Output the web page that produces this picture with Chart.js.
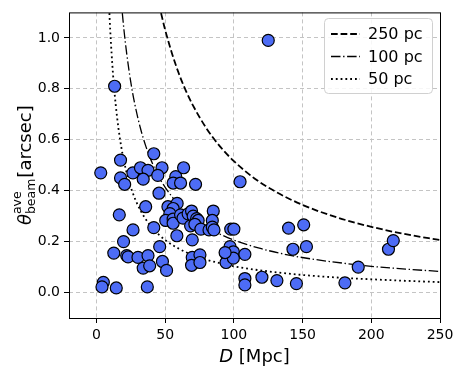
<!DOCTYPE html>
<html lang="en">
<head>
  <meta charset="UTF-8">
  <title>Beam size vs distance</title>
  <script src="https://cdn.jsdelivr.net/npm/chart.js"></script>
  <style>
    html, body { margin: 0; padding: 0; background: #fff; }
    .chart-box { position: relative; width: 463px; height: 371px; }
  </style>
</head>
<body>
  <div class="chart-box">
    <canvas id="beamChart" width="463" height="371"></canvas>
  </div>
  <script>
    // Galaxies: distance D [Mpc] and average beam size [arcsec]
    const galaxyD = [125, 13.2, 3.1, 5, 4, 14.4, 37, 12.6, 19.7,
      17.5, 17.5, 20.5, 26.5, 32, 37.5, 34, 41.7, 47.7, 44.6, 57.7, 63.4, 55.8, 61.2, 72.1, 104.5,
      45.5, 35.8, 16.6, 26.6, 41.7, 22, 23, 30.2, 37.5, 34, 38.7, 46, 48, 51,
      58.5, 69.7, 69.7, 75.3, 69.2, 75.3, 94, 97.2, 99.6, 94.3, 99.6, 93.6, 108, 108, 108,
      97.7, 100, 52, 58.7, 55.8, 53.4, 50.4, 55.8, 55.8, 61.2, 63, 66.7, 69.2, 70.4, 72.9,
      74, 68.5, 71.6, 76, 81.9, 85, 84.3, 84.3, 85.5,
      120.4, 131.3, 145.5, 139.8, 150.8, 143, 152.8, 190.5, 180.8, 212.5, 216];
    const galaxyTheta = [0.99, 0.81, 0.47, 0.04, 0.022, 0.018, 0.022, 0.155, 0.2,
      0.52, 0.45, 0.425, 0.47, 0.49, 0.48, 0.445, 0.545, 0.49, 0.46, 0.455, 0.49, 0.43, 0.43, 0.425, 0.435,
      0.39, 0.337, 0.305, 0.246, 0.255, 0.145, 0.14, 0.138, 0.145, 0.096, 0.105, 0.18, 0.122, 0.087,
      0.223, 0.207, 0.138, 0.148, 0.107, 0.118, 0.155, 0.18, 0.16, 0.118, 0.135, 0.157, 0.15, 0.055, 0.03,
      0.249, 0.249, 0.337, 0.35, 0.33, 0.31, 0.283, 0.288, 0.272, 0.305, 0.292, 0.309, 0.32, 0.3, 0.29,
      0.283, 0.262, 0.268, 0.249, 0.246, 0.32, 0.283, 0.257, 0.246,
      0.06, 0.047, 0.035, 0.253, 0.266, 0.17, 0.18, 0.1, 0.038, 0.17, 0.204];

    // Reference curves
    const curve250D = [47, 50, 55, 60, 65, 70, 80, 90, 100, 115, 130, 150, 175, 200, 225, 250];
    const curve250Theta = [1.097, 1.031, 0.938, 0.859, 0.793, 0.737, 0.645, 0.573, 0.516, 0.448, 0.397, 0.344, 0.295, 0.258, 0.229, 0.206];
    const curve100D = [18.8, 20, 22, 25, 28, 32, 36, 40, 45, 50, 60, 70, 80, 90, 100, 120, 140, 160, 180, 200, 225, 250];
    const curve100Theta = [1.097, 1.031, 0.938, 0.825, 0.737, 0.645, 0.573, 0.516, 0.458, 0.413, 0.344, 0.295, 0.258, 0.229, 0.206, 0.172, 0.147, 0.129, 0.115, 0.103, 0.092, 0.083];
    const curve50D = [9.4, 10, 11, 12, 13, 14, 16, 18, 20, 23, 26, 30, 35, 40, 45, 50, 60, 70, 80, 90, 100, 125, 150, 175, 200, 225, 250];
    const curve50Theta = [1.097, 1.031, 0.938, 0.859, 0.793, 0.737, 0.645, 0.573, 0.516, 0.448, 0.397, 0.344, 0.295, 0.258, 0.229, 0.206, 0.172, 0.147, 0.129, 0.115, 0.103, 0.083, 0.069, 0.059, 0.052, 0.046, 0.041];

    const curveLabels = ['250 pc', '100 pc', '50 pc'];
    const curveDashes = [[6.7, 2.9], [9.5, 2.6, 1.4, 2.6], [1.8, 3]];
    const curveWidths = [1.8, 1.3, 1.8];
    const xTicks = [0, 50, 100, 150, 200, 250];
    const yTicks = [0.0, 0.2, 0.4, 0.6, 0.8, 1.0];

    const font = "'DejaVu Sans', sans-serif";

    function pairs(xs, ys) {
      return xs.map((x, i) => ({ x: x, y: ys[i] }));
    }

    function curveDataset(xs, ys, i) {
      return {
        label: curveLabels[i],
        data: pairs(xs, ys),
        showLine: true,
        borderColor: '#000',
        borderWidth: curveWidths[i],
        borderDash: curveDashes[i],
        pointRadius: 0,
        cubicInterpolationMode: 'monotone',
        order: i + 1
      };
    }

    // Frame, axis titles and legend box
    const extras = {
      id: 'extras',
      afterDraw(chart) {
        const ctx = chart.ctx;
        const a = chart.chartArea;
        ctx.save();
        ctx.strokeStyle = '#000';
        ctx.lineWidth = 1;
        ctx.strokeRect(a.left + 0.5, a.top + 0.5, a.right - a.left, a.bottom - a.top);

        // x title
        ctx.fillStyle = '#000';
        ctx.textBaseline = 'alphabetic';
        const cx = (a.left + a.right) / 2;
        ctx.font = 'italic 18px ' + font;
        const wD = ctx.measureText('D').width;
        ctx.font = '18px ' + font;
        const wRest = ctx.measureText(' [Mpc]').width;
        let x0 = cx - (wD + wRest) / 2;
        ctx.font = 'italic 18px ' + font;
        ctx.fillText('D', x0, 362);
        ctx.font = '18px ' + font;
        ctx.fillText(' [Mpc]', x0 + wD, 362);

        // y title, rotated
        ctx.translate(31, (a.top + a.bottom) / 2);
        ctx.rotate(-Math.PI / 2);
        ctx.font = 'italic 18px ' + font;
        const wT = ctx.measureText('θ').width;
        ctx.font = '12.5px ' + font;
        const wSub = ctx.measureText('beam').width;
        ctx.font = '18px ' + font;
        const wArc = ctx.measureText('[arcsec]').width;
        const total = wT + wSub + 1 + wArc;
        let px = -total / 2;
        ctx.font = 'italic 18px ' + font;
        ctx.fillText('θ', px, 0);
        px += wT;
        ctx.font = '12.5px ' + font;
        ctx.fillText('beam', px, 4);
        ctx.fillText('ave', px, -10);
        px += wSub + 1;
        ctx.font = '18px ' + font;
        ctx.fillText('[arcsec]', px, 0);
        ctx.restore();

        // legend
        ctx.save();
        const lx = 324, ly = 18, lw = 108, lh = 75;
        ctx.beginPath();
        ctx.roundRect(lx + 0.5, ly + 0.5, lw, lh, 4);
        ctx.fillStyle = 'rgba(255,255,255,0.85)';
        ctx.fill();
        ctx.strokeStyle = '#d0d0d0';
        ctx.lineWidth = 1;
        ctx.stroke();
        ctx.font = '16px ' + font;
        ctx.textBaseline = 'middle';
        curveLabels.forEach((lab, i) => {
          const y = ly + 16 + i * 22.5;
          ctx.beginPath();
          ctx.setLineDash(curveDashes[i]);
          ctx.strokeStyle = '#000';
          ctx.lineWidth = curveWidths[i];
          ctx.moveTo(lx + 7, y);
          ctx.lineTo(lx + 36, y);
          ctx.stroke();
          ctx.setLineDash([]);
          ctx.fillStyle = '#000';
          ctx.fillText(lab, lx + 44, y + 1);
        });
        ctx.restore();
      }
    };

    const ctx = document.getElementById('beamChart').getContext('2d');
    new Chart(ctx, {
      type: 'scatter',
      data: {
        datasets: [
          {
            label: 'galaxies',
            data: pairs(galaxyD, galaxyTheta),
            backgroundColor: '#4d6cf5',
            borderColor: '#000',
            borderWidth: 1.2,
            pointRadius: 6,
            order: 0
          },
          curveDataset(curve250D, curve250Theta, 0),
          curveDataset(curve100D, curve100Theta, 1),
          curveDataset(curve50D, curve50Theta, 2)
        ]
      },
      options: {
        responsive: false,
        animation: false,
        devicePixelRatio: 1,
        layout: { padding: { top: 11, right: 23, left: 0, bottom: 0 } },
        plugins: {
          legend: { display: false },
          tooltip: { enabled: false }
        },
        scales: {
          x: {
            type: 'linear',
            min: -20,
            max: 250,
            afterBuildTicks: s => { s.ticks = xTicks.map(v => ({ value: v })); },
            afterFit: s => { s.height = 53; },
            grid: { color: '#c4c4c4', lineWidth: 1, tickColor: '#000', tickLength: 5, tickBorderDash: [] },
            border: { display: false, dash: [4, 3] },
            ticks: { color: '#000', font: { family: font, size: 14 }, padding: 4, maxRotation: 0 }
          },
          y: {
            type: 'linear',
            min: -0.1,
            max: 1.1,
            afterBuildTicks: s => { s.ticks = yTicks.map(v => ({ value: v })); },
            afterFit: s => { s.width = 69; },
            grid: { color: '#c4c4c4', lineWidth: 1, tickColor: '#000', tickLength: 5, tickBorderDash: [] },
            border: { display: false, dash: [4, 3] },
            ticks: { color: '#000', font: { family: font, size: 14 }, padding: 4, callback: v => v.toFixed(1) }
          }
        }
      },
      plugins: [extras]
    });
  </script>
</body>
</html>
